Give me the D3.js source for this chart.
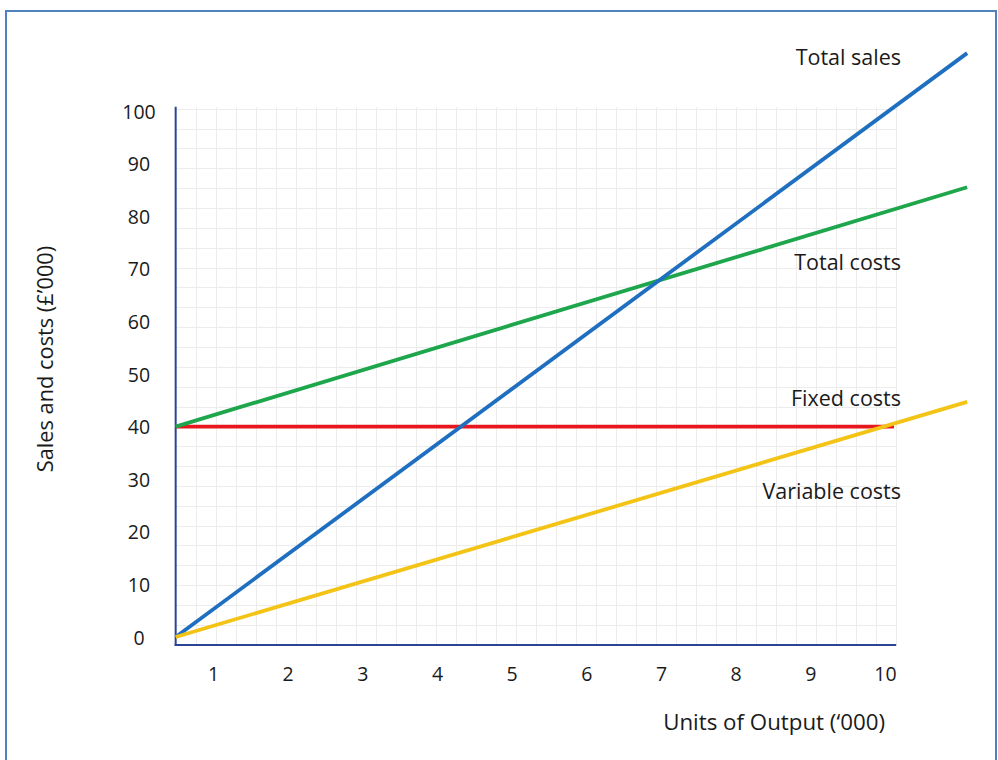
<!DOCTYPE html>
<html>
<head>
<meta charset="utf-8">
<script src="https://cdn.jsdelivr.net/npm/d3@7"></script>
<style>
  html, body { margin: 0; padding: 0; background: #fff; }
  svg { display: block; }
  text { font-family: "Open Sans", Lato, sans-serif; fill: #1a1a1a; }
</style>
</head>
<body>
<svg id="chart" width="998" height="760"></svg>
<script>
// ---- data ----
const xTickLabels = [1, 2, 3, 4, 5, 6, 7, 8, 9, 10];
const yTickLabels = [0, 10, 20, 30, 40, 50, 60, 70, 80, 90, 100];
const seriesNames = ["Total sales", "Total costs", "Fixed costs", "Variable costs"];
const seriesColors = ["#1f6fc0", "#1ea64c", "#e8171d", "#f3c315"];
const outputAxis = [0.5, 11.1];        // x positions (label units) of line endpoints
const fixedOutput = [0.5, 10.12];      // fixed-cost line ends earlier
const totalSales = [0, 111];
const totalCosts = [40, 85.5];
const fixedCosts = [40, 40];
const variableCosts = [0, 44.7];

// ---- layout ----
const svg = d3.select("#chart");
const x = d3.scaleLinear().domain([1, 10]).range([213, 885]);
const y = d3.scaleLinear().domain([0, 100]).range([637, 111]);
const FONT = "'Open Sans', Lato, sans-serif";

// frame
svg.append("rect").attr("x", 6).attr("y", 11).attr("width", 990).attr("height", 760)
  .attr("fill", "none").attr("stroke", "#4f81bd").attr("stroke-width", 2);

// grid paper background
const gx0 = x(0.5), gx1 = x(10.15), gy0 = y(100.8), gy1 = y(-1.5);
const grid = svg.append("g").attr("stroke", "#ececec").attr("stroke-width", 1);
d3.range(gx0 + 20, gx1 + 1, 20).forEach(v => {
  grid.append("line").attr("x1", Math.round(v) + 0.5).attr("x2", Math.round(v) + 0.5)
    .attr("y1", gy0).attr("y2", gy1);
});
d3.range(gy1 - 20, gy0 - 1, -19.85).forEach(v => {
  grid.append("line").attr("y1", Math.round(v) + 0.5).attr("y2", Math.round(v) + 0.5)
    .attr("x1", gx0).attr("x2", gx1);
});

// axes lines
const axisColor = "#2a4394";
svg.append("line").attr("x1", gx0).attr("x2", gx0).attr("y1", gy0).attr("y2", gy1 + 1)
  .attr("stroke", axisColor).attr("stroke-width", 2);
svg.append("line").attr("x1", gx0 - 1).attr("x2", gx1).attr("y1", gy1).attr("y2", gy1)
  .attr("stroke", axisColor).attr("stroke-width", 2);

// tick labels via d3 axes
const yAxis = svg.append("g").attr("transform", "translate(139,0)")
  .call(d3.axisLeft(y).tickValues(yTickLabels).tickSize(0).tickPadding(0));
yAxis.select(".domain").remove();
yAxis.selectAll("text").attr("text-anchor", "middle").attr("dy", "0.36em")
  .attr("x", 0).style("font-size", "19.5px").style("font-family", FONT).attr("fill", "#1a1a1a");

const xAxis = svg.append("g").attr("transform", "translate(0,674)")
  .call(d3.axisBottom(x).tickValues(xTickLabels).tickSize(0).tickPadding(0));
xAxis.select(".domain").remove();
xAxis.selectAll("text").attr("dy", "0.36em").attr("y", 0)
  .style("font-size", "19.5px").style("font-family", FONT).attr("fill", "#1a1a1a");

// axis titles
svg.append("text").attr("x", 885).attr("y", 722).attr("dy", "0.36em")
  .attr("text-anchor", "end").style("font-size", "22.3px").text("Units of Output (‘000)");
svg.append("text").attr("transform", "translate(45,359) rotate(-90)").attr("dy", "0.36em")
  .attr("text-anchor", "middle").style("font-size", "21.8px").text("Sales and costs (£’000)");

// series lines
const line = d3.line().x(d => x(d[0])).y(d => y(d[1]));
const series = [
  { name: seriesNames[2], color: seriesColors[2], pts: d3.zip(fixedOutput, fixedCosts) },
  { name: seriesNames[1], color: seriesColors[1], pts: d3.zip(outputAxis, totalCosts) },
  { name: seriesNames[0], color: seriesColors[0], pts: d3.zip(outputAxis, totalSales) },
  { name: seriesNames[3], color: seriesColors[3], pts: d3.zip(outputAxis, variableCosts) }
];
svg.append("g").selectAll("path").data(series).join("path")
  .attr("d", d => line(d.pts)).attr("fill", "none")
  .attr("stroke", d => d.color).attr("stroke-width", 3.8);

// annotations
const labelPos = [[57, 0], [262, 1], [398, 2], [491, 3]];
svg.append("g").selectAll("text").data(labelPos).join("text")
  .attr("x", 901).attr("y", d => d[0]).attr("dy", "0.36em")
  .attr("text-anchor", "end").style("font-size", "21.5px")
  .text(d => seriesNames[d[1]]);
</script>
</body>
</html>
